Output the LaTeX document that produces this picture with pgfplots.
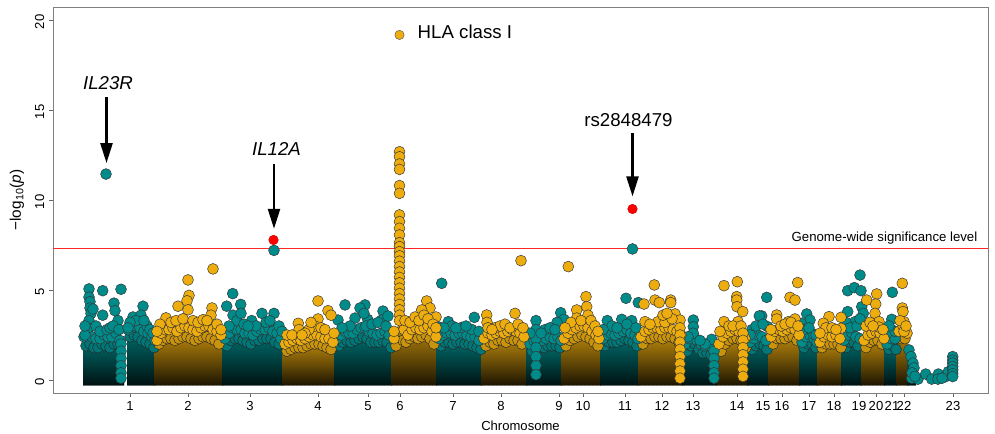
\documentclass[border=0pt]{standalone}
\usepackage{pgfplots}
\pgfplotsset{compat=1.18}
\usepackage{fontspec}
\setmainfont{Liberation Sans}
\usetikzlibrary{arrows.meta,patterns}

\definecolor{tealc}{RGB}{0,139,139}
\definecolor{goldc}{RGB}{238,173,14}
\definecolor{hitred}{RGB}{255,0,0}

\pgfplotsset{
  tbody/.style={draw=none, top color=tealc!88!black, bottom color=tealc!12!black,
    postaction={pattern=vertical lines, pattern color=black!55}, forget plot},
  ybody/.style={draw=none, top color=goldc!88!black, bottom color=goldc!12!black,
    postaction={pattern=vertical lines, pattern color=black!55}, forget plot},
  tdot/.style={only marks, mark=*, mark size=4.1pt, mark options={fill=tealc, draw=black!80, line width=0.35pt}, forget plot},
  ydot/.style={only marks, mark=*, mark size=4.1pt, mark options={fill=goldc, draw=black!80, line width=0.35pt}, forget plot},
  tdotd/.style={only marks, mark=*, mark size=4.1pt, mark options={fill=tealc!85!black, draw=black!85, line width=0.35pt}, forget plot},
  ydotd/.style={only marks, mark=*, mark size=4.1pt, mark options={fill=goldc!85!black, draw=black!85, line width=0.35pt}, forget plot},
}

\begin{document}
\begin{tikzpicture}
\path[use as bounding box] (-39.75pt,-30.75pt) rectangle (706.5pt,294.75pt);
\begin{axis}[
  at={(0,0)}, anchor=south west,
  scale only axis, width=701.25pt, height=289.5pt,
  xmin=53, xmax=988, ymin=-0.722, ymax=20.722,
  axis line style={draw=black!50, line width=0.6pt},
  xtick={130,188,250,318,368,400,453,501,559,583,625,662,693,737,763,782,809,834,859,876,892,904,953},
  xticklabels={1,2,3,4,5,6,7,8,9,10,11,12,13,14,15,16,17,18,19,20,21,22,23},
  ytick={0,5,10,15,20},
  tick align=outside, major tick length=3pt,
  xtick pos=lower, ytick pos=left,
  tick style={draw=black!60, line width=0.6pt},
  tick label style={font=\fontsize{9.8}{11}\selectfont},
  /pgf/number format/assume math mode=true,
  yticklabel style={rotate=90, anchor=south, xshift=-1.5pt},
  xlabel={Chromosome},
  ylabel={−log\textsubscript{10}(\textit{p})},
  xlabel style={font=\fontsize{9.8}{11}\selectfont, at={(axis description cs:0.5,-0.0855)}, anchor=center},
  ylabel style={font=\fontsize{11.5}{13}\selectfont, at={(axis description cs:-0.0385,0.5)}, anchor=center},
]

% ---- dense bodies (dense lower part of every chromosome) ----
\addplot[tbody] coordinates {(83,-0.3) (83,2.4) (88,2.6) (93,2.3) (98,2.2) (104,2.5) (110,2.3) (116,2.6) (121,2.0) (124,1.5) (124,-0.3)} -- cycle;
\addplot[tbody] coordinates {(127,-0.3) (127,2.9) (132,3.2) (138,3.0) (144,2.7) (150,2.5) (155,2.3) (155,-0.3)} -- cycle;
\addplot[ybody] coordinates {(154,-0.3) (154,2.2) (160,2.6) (166,2.8) (172,2.9) (178,2.7) (184,3.0) (190,2.9) (196,2.7) (202,2.9) (208,3.0) (214,2.8) (220,2.6) (223,2.4) (223,-0.3)} -- cycle;
\addplot[tbody] coordinates {(222,-0.3) (222,2.3) (228,2.6) (234,2.9) (240,2.8) (246,2.6) (252,2.5) (258,2.7) (264,2.8) (270,2.9) (276,2.6) (283,2.3) (283,-0.3)} -- cycle;
\addplot[ybody] coordinates {(282,-0.3) (282,2.0) (290,2.1) (296,2.3) (302,2.2) (308,2.4) (314,2.5) (320,2.4) (326,2.3) (332,2.2) (335,2.1) (335,-0.3)} -- cycle;
\addplot[tbody] coordinates {(334,-0.3) (334,2.3) (341,2.5) (347,2.7) (353,2.6) (359,2.8) (365,2.9) (371,2.6) (377,2.5) (383,2.7) (389,2.6) (392,2.2) (392,-0.3)} -- cycle;
\addplot[ybody] coordinates {(391,-0.3) (391,2.3) (397,2.8) (400,3.5) (402,2.8) (408,2.6) (414,2.9) (420,2.8) (426,3.0) (432,2.7) (437,2.4) (437,-0.3)} -- cycle;
\addplot[tbody] coordinates {(436,-0.3) (436,2.3) (442,2.5) (448,2.6) (454,2.5) (460,2.6) (466,2.5) (472,2.4) (478,2.3) (482,2.1) (482,-0.3)} -- cycle;
\addplot[ybody] coordinates {(481,-0.3) (481,2.3) (488,2.6) (494,2.5) (500,2.7) (506,2.6) (512,2.8) (518,2.7) (524,2.5) (527,2.3) (527,-0.3)} -- cycle;
\addplot[tbody] coordinates {(526,-0.3) (526,2.0) (533,2.2) (538,2.3) (543,2.2) (548,2.4) (553,2.3) (558,2.4) (562,2.2) (562,-0.3)} -- cycle;
\addplot[ybody] coordinates {(561,-0.3) (561,2.3) (567,2.6) (572,2.8) (577,2.9) (582,3.0) (587,2.9) (592,2.7) (597,2.5) (601,2.3) (601,-0.3)} -- cycle;
\addplot[tbody] coordinates {(600,-0.3) (600,2.3) (606,2.5) (611,2.6) (616,2.5) (621,2.7) (626,2.8) (631,2.6) (636,2.5) (639,2.3) (639,-0.3)} -- cycle;
\addplot[ybody] coordinates {(638,-0.3) (638,2.4) (644,2.7) (650,2.8) (656,2.9) (662,2.8) (668,2.9) (674,2.8) (680,2.6) (683,2.3) (683,-0.3)} -- cycle;
\addplot[tbody] coordinates {(682,-0.3) (682,2.0) (688,2.3) (693,2.6) (698,2.2) (703,1.9) (708,1.9) (713,1.8) (717,1.6) (717,-0.3)} -- cycle;
\addplot[ybody] coordinates {(716,-0.3) (716,2.0) (722,2.4) (727,2.6) (732,2.7) (737,2.8) (742,2.6) (746,2.3) (748,2.0) (748,-0.3)} -- cycle;
\addplot[tbody] coordinates {(747,-0.3) (747,2.1) (753,2.3) (758,2.5) (763,2.4) (769,2.2) (769,-0.3)} -- cycle;
\addplot[ybody] coordinates {(768,-0.3) (768,2.4) (774,2.7) (779,2.8) (784,2.7) (789,2.8) (794,2.9) (799,2.6) (800,2.3) (800,-0.3)} -- cycle;
\addplot[tbody] coordinates {(799,-0.3) (799,2.1) (805,2.4) (810,2.5) (815,2.3) (818,2.1) (818,-0.3)} -- cycle;
\addplot[ybody] coordinates {(817,-0.3) (817,2.1) (823,2.4) (828,2.5) (833,2.4) (838,2.5) (842,2.2) (842,-0.3)} -- cycle;
\addplot[tbody] coordinates {(841,-0.3) (841,2.2) (847,2.5) (852,2.6) (857,2.4) (862,2.2) (862,-0.3)} -- cycle;
\addplot[ybody] coordinates {(861,-0.3) (861,2.2) (867,2.5) (872,2.6) (877,2.7) (882,2.5) (885,2.2) (885,-0.3)} -- cycle;
\addplot[tbody] coordinates {(884,-0.3) (884,2.0) (889,2.3) (893,2.4) (897,2.1) (897,-0.3)} -- cycle;
\addplot[ybody] coordinates {(896,-0.3) (896,2.7) (901,3.0) (905,2.8) (908,2.2) (908,-0.3)} -- cycle;
\addplot[tbody] coordinates {(907,-0.3) (907,1.6) (910,1.2) (913,0.7) (916,0.2) (916,-0.3)} -- cycle;

% ---- dense packs of SNPs along the top of each body ----
\addplot[tdotd] coordinates {
(86,1.9) (90,2.0) (94,1.8) (98,1.8) (102,2.0) (106,1.9) (110,1.8) (114,2.0) (118,2.0)
(130,2.4) (134,2.5) (138,2.4) (142,2.2) (146,2.1) (150,2.0) (154,1.8)
(227,1.9) (231,2.2) (235,2.3) (239,2.3) (243,2.2) (247,2.1) (251,2.0) (255,2.2) (259,2.2) (263,2.3) (267,2.3) (271,2.3) (275,2.1) (279,2.0)
(339,1.9) (343,2.1) (347,2.2) (351,2.1) (355,2.2) (359,2.3) (363,2.4) (367,2.3) (371,2.1) (375,2.1) (379,2.1) (383,2.2) (387,2.1) (391,1.8)
(441,1.9) (445,2.1) (449,2.1) (453,2.0) (457,2.1) (461,2.1) (465,2.0) (469,2.0) (473,1.9) (477,1.8) (481,1.7)
(532,1.6) (540,1.8) (544,1.8) (548,1.9) (552,1.9) (556,1.9) (560,1.8)
(605,1.9) (609,2.1) (613,2.1) (617,2.1) (621,2.2) (625,2.3) (629,2.2) (633,2.1) (637,1.9)
(687,1.6) (691,1.9) (695,2.0) (699,1.7) (703,1.5) (707,1.5) (711,1.4)
(752,1.7) (756,1.9) (760,2.0) (764,1.9) (767,1.7)
(804,1.8) (808,2.0) (812,2.0) (816,1.8)
(846,1.8) (850,2.1) (854,2.1) (858,1.9)
(889,1.7) (893,1.9) (896,1.7)
};
\addplot[ydotd] coordinates {
(159,2.0) (163,2.2) (167,2.3) (171,2.3) (175,2.2) (179,2.3) (183,2.4) (187,2.4) (191,2.3) (195,2.2) (199,2.3) (203,2.4) (207,2.4) (211,2.3) (215,2.2) (219,2.0)
(287,1.6) (291,1.7) (295,1.8) (299,1.8) (303,1.8) (307,1.9) (311,2.0) (315,2.0) (319,2.0) (323,1.9) (327,1.8) (331,1.7)
(396,1.9) (403,2.2) (406,2.1) (410,2.3) (414,2.4) (418,2.3) (422,2.4) (426,2.5) (430,2.3) (434,2.0)
(486,1.9) (490,2.1) (494,2.0) (498,2.2) (502,2.2) (506,2.1) (510,2.3) (514,2.2) (518,2.2) (522,2.0)
(566,1.9) (570,2.2) (574,2.3) (578,2.4) (582,2.5) (586,2.4) (590,2.3) (594,2.1) (598,1.9)
(643,2.0) (647,2.3) (651,2.3) (655,2.4) (659,2.4) (663,2.3) (667,2.4) (671,2.4) (675,2.3) (679,2.1)
(721,1.6) (725,2.0) (729,2.2) (733,2.3) (737,2.3) (741,2.2) (746,1.8)
(773,2.0) (777,2.3) (781,2.3) (785,2.3) (789,2.4) (793,2.4) (797,2.2)
(822,1.8) (826,2.0) (830,2.0) (834,2.0) (838,2.0) (841,1.8)
(866,1.8) (870,2.1) (874,2.2) (878,2.2) (882,2.0)
(901,2.3) (905,2.3)
};

% ---- significance threshold ----
\addplot[draw=hitred!85, line width=1.1pt, forget plot] coordinates {(53,7.3) (988,7.3)};

% ---- teal SNPs (odd chromosomes) ----
\addplot[tdot] coordinates {
(84,2.4) (88,2.6) (92,2.4) (96,2.3) (100,2.3) (104,2.5) (108,2.4) (112,2.4) (116,2.6) (120,2.2)
(128,2.8) (132,3.1) (136,3.0) (140,2.9) (144,2.7) (148,2.6) (152,2.4) (155,2.2)
(225,2.3) (229,2.6) (233,2.9) (237,2.8) (241,2.8) (245,2.6) (249,2.6) (253,2.5) (257,2.7) (261,2.8) (265,2.8) (269,2.9) (273,2.7) (277,2.6) (281,2.3)
(337,2.3) (341,2.5) (345,2.7) (349,2.6) (353,2.6) (357,2.8) (361,2.9) (365,2.9) (369,2.7) (373,2.6) (377,2.5) (381,2.6) (385,2.7) (389,2.5)
(439,2.3) (443,2.5) (447,2.6) (451,2.6) (455,2.5) (459,2.6) (463,2.6) (467,2.5) (471,2.4) (475,2.4) (479,2.2)
(530,2.0) (534,2.2) (538,2.3) (542,2.2) (546,2.3) (550,2.4) (554,2.3) (558,2.4) (561,2.2)
(603,2.3) (607,2.5) (611,2.6) (615,2.5) (619,2.6) (623,2.7) (627,2.8) (631,2.6) (635,2.5) (638,2.3)
(685,2.0) (689,2.3) (693,2.5) (697,2.2) (701,2.0) (705,1.9) (709,1.9) (712,1.8)
(750,2.1) (754,2.3) (758,2.5) (762,2.4) (766,2.2)
(802,2.1) (806,2.4) (810,2.5) (814,2.3) (817,2.1)
(844,2.2) (848,2.5) (852,2.6) (856,2.4) (860,2.3)
(887,2.0) (891,2.3) (895,2.3)
(89,5.06) (89,4.6) (90,4.35) (90,4.0) (91,3.7) (89,3.3) (88,2.9) (102.7,4.96) (102.7,3.6) (114,4.27)
(115,3.85) (118,3.3) (121,5.04) (93,3.94) (96,3.0) (100,2.7) (107,2.8) (110,2.9) (113,3.0) (119,2.8)
(85,2.5) (85,3.0) (121,2.0) (121,1.6) (121,1.2) (121,0.8) (121,0.4) (121,0.1)
(133,3.5) (143,4.1) (141,3.6) (136,3.3) (130,3.2) (147,3.0) (150,2.8) (153,2.6) (128,2.9) (144,3.3)
(106,11.44)
(232.7,4.8) (240.7,4.2) (226.7,4.1) (251.7,3.3) (262,3.7) (274,3.7) (274,7.2) (233,3.6) (237,3.3) (241,3.7)
(244,3.1) (229,3.0) (256,3.0) (266,3.2) (270,3.3) (279,3.0) (248,3.0) (282,2.7)
(345,4.17) (365,4.17) (360,4.0) (383,3.83) (338,3.33) (355,3.44) (367.7,3.37) (381.7,3.33) (364,3.7) (366,3.0)
(350,3.0) (372,3.1) (378,3.2) (386,3.0) (342,2.9) (388,3.55)
(441.7,5.37) (474.3,3.48) (448.3,3.24) (439,2.94) (461.7,2.92) (471.7,2.81) (452,3.0) (456,2.9) (466,3.0) (444,2.9) (479,2.7)
(536,3.3) (536,2.8) (536,2.3) (536,1.8) (536,1.3) (536,0.8) (536,0.3) (560.7,3.74) (564,3.37) (557,3.2)
(545,2.8) (550,2.9) (530,2.6) (541,2.6) (555,2.8)
(626,4.54) (638.3,4.3) (607.3,3.3) (621.7,3.37) (631.7,3.3) (632.5,7.28) (612,3.0) (617,2.9) (627,3.1) (603,2.8) (636,2.9)
(693.3,3.33) (693.3,2.96) (693.3,2.6) (711.7,2.26) (705,2.0) (700,2.2) (688,2.4) (714,1.6) (714,1.2) (714,0.8) (714,0.4) (714,0.1)
(766.7,4.59) (761.7,3.56) (759.3,3.56) (767.7,2.96) (752,2.8) (756,3.0) (763,3.1) (750,2.5)
(806.7,3.67) (810,3.33) (801,3.15) (813.3,2.56) (804,2.8) (809,2.9) (816,2.5)
(860,5.83) (847.7,4.96) (854.3,5.13) (861,4.96) (847.7,3.8) (861.7,4.07) (863.3,3.7) (855,3.24) (846,3.2) (850,2.9) (857,3.0) (860,3.4)
(892.3,4.87) (891.7,3.37) (891.7,2.78) (887,2.6) (895,2.7) (889,3.0)
(909,1.67) (911,1.3) (913,0.94) (914,0.67) (911.7,0.1) (918,0.05) (925.7,0.33) (931.7,0.05) (938.3,0.33) (938,0.05)
(945.7,0.19) (948.3,0.46) (912,0.4) (915,0.2) (942,0.1)
(952.7,1.3) (952.7,1.1) (952.7,0.94) (952.7,0.75) (952.7,0.56) (952.7,0.35) (952.7,0.19)
};

% ---- gold SNPs (even chromosomes) ----
\addplot[ydot] coordinates {
(157,2.2) (161,2.6) (165,2.8) (169,2.8) (173,2.9) (177,2.7) (181,2.9) (185,3.0) (189,2.9) (193,2.8) (197,2.7) (201,2.9) (205,3.0) (209,3.0) (213,2.8) (217,2.7) (221,2.5)
(285,2.0) (289,2.1) (293,2.2) (297,2.3) (301,2.2) (305,2.3) (309,2.4) (313,2.5) (317,2.5) (321,2.4) (325,2.3) (329,2.3) (333,2.1)
(394,2.3) (404,2.8) (408,2.5) (412,2.8) (416,2.9) (420,2.8) (424,2.9) (428,3.0) (432,2.7) (436,2.4)
(484,2.3) (488,2.6) (492,2.5) (496,2.6) (500,2.7) (504,2.6) (508,2.7) (512,2.8) (516,2.7) (520,2.6) (524,2.4)
(564,2.3) (568,2.6) (572,2.8) (576,2.9) (580,3.0) (584,3.0) (588,2.9) (592,2.7) (596,2.5) (599,2.3)
(641,2.4) (645,2.7) (649,2.8) (653,2.9) (657,2.9) (661,2.8) (665,2.9) (669,2.9) (673,2.8) (677,2.7) (681,2.5)
(719,2.0) (723,2.4) (727,2.6) (731,2.7) (735,2.8) (739,2.7) (745,2.3)
(771,2.4) (775,2.7) (779,2.8) (783,2.7) (787,2.8) (791,2.9) (795,2.8) (799,2.5)
(820,2.1) (824,2.4) (828,2.5) (832,2.4) (836,2.5) (840,2.3)
(864,2.2) (868,2.5) (872,2.6) (876,2.7) (880,2.6) (884,2.3)
(899,2.7) (903,3.0) (907,2.6)
(213,6.17) (188,5.56) (189,4.7) (187,4.4) (178,4.1) (188,3.9) (212,4.0) (211,3.6) (166,3.45) (160,3.1)
(171,3.2) (176,3.3) (183,3.4) (193,3.3) (198,3.2) (203,3.35) (207,3.3) (217,3.1) (221,2.8) (157,2.7)
(298.3,3.15) (299,2.8) (318,4.39) (328,3.85) (331,3.6) (318,3.39) (315,3.0) (321,2.9) (309,2.8) (305,2.6)
(325,2.8) (287,2.5) (292,2.5) (311,3.2) (334,2.6) (302,2.5)
(399.5,12.68) (399.5,12.4) (399.5,12.0) (399.5,11.7) (399.5,10.8) (399.5,10.37) (399.5,9.17) (399.5,8.8)
(399.5,8.43) (399.5,8.06) (399.5,7.63) (399.5,7.41) (399.5,7.13) (399.5,6.9) (399.5,6.6) (399.5,6.3)
(399.5,6.0) (399.5,5.7) (399.5,5.4) (399.5,5.1) (399.5,4.8) (399.5,4.5) (399.5,4.2) (399.5,3.9) (399.5,3.6) (399.5,3.3)
(426.7,4.39) (430,4.0) (421.7,3.89) (436,3.5) (405,3.3) (410,3.2) (415,3.5) (419,3.3) (424,3.6) (428,3.4)
(433,3.1) (436,2.9) (394,2.7)
(521,6.63) (515,3.7) (486.7,3.61) (487,3.2) (488,2.9) (495,2.9) (500,3.0) (505,3.1) (510,2.9) (518,3.1) (523,2.9) (492,2.8)
(568.3,6.3) (586,4.63) (586.7,4.07) (588,3.6) (576.7,3.89) (576.7,3.44) (571,3.2) (581,3.3) (591,3.3) (595,3.0) (565,2.9) (598,2.7)
(654.3,5.28) (655,4.44) (659.3,4.3) (644,4.22) (670.7,4.44) (670.7,4.3) (675,3.67) (645,3.24) (658,3.24) (680,3.33)
(680,2.9) (680,2.5) (680,2.1) (680,1.7) (680,1.3) (680,0.9) (680,0.5) (680,0.1) (650,3.1) (665,3.2) (672,3.4) (663,3.6) (667,3.7)
(724,5.24) (737.3,5.46) (736.7,4.63) (736.7,4.44) (737,4.07) (742.7,3.8) (724,3.24) (738,3.24) (729,3.0) (733,3.0)
(741,3.0) (720,2.7) (743,2.6) (743,2.2) (743,1.8) (743,1.4) (743,1.0) (743,0.6) (743,0.2)
(797.7,5.41) (790,4.59) (795,4.44) (776.7,3.61) (776.7,3.39) (788.3,3.24) (795,3.39) (781,3.0) (785,3.1) (791,3.2) (771,2.8) (798,3.0)
(829,3.52) (823.3,3.15) (841,3.48) (841,2.87) (826,2.9) (832,2.9) (836,2.8) (820,2.6)
(866.7,4.44) (876.7,4.78) (875.7,4.22) (875,3.7) (879,3.24) (879,2.94) (866,3.0) (870,3.2) (873,3.0) (883,2.8)
(902.3,5.37) (902.3,4.0) (903,3.8) (904,3.24) (904,2.69) (900,3.3) (906,3.0)
};

% ---- highlighted SNPs ----
\addplot[only marks, mark=*, mark size=3.5pt, mark options={fill=goldc, draw=black!70, line width=0.3pt}, forget plot]
  coordinates {(399.5,19.17)};
\addplot[only marks, mark=*, mark size=3.6pt, mark options={fill=hitred, draw=red!80!black, line width=0.3pt}, forget plot]
  coordinates {(273.5,7.78) (632.5,9.5)};

% ---- annotations ----
\node[anchor=west, font=\fontsize{14}{16}\selectfont] at (axis cs:413,19.35) {HLA class I};
\node[font=\fontsize{14}{16}\selectfont\itshape] at (axis cs:108,16.5) {IL23R};
\node[font=\fontsize{14}{16}\selectfont\itshape] at (axis cs:276.5,12.82) {IL12A};
\node[font=\fontsize{14}{16}\selectfont] at (axis cs:628.5,14.44) {rs2848479};
\node[anchor=base east, font=\fontsize{9.9}{11}\selectfont] at (axis cs:982,7.68) {Genome-wide significance level};
\draw[-{Triangle[width=9pt,length=15pt]}, line width=1.8pt] (axis cs:106.5,15.7) -- (axis cs:106.5,12.05);
\draw[-{Triangle[width=9pt,length=15pt]}, line width=1.8pt] (axis cs:274,12.0) -- (axis cs:274,8.4);
\draw[-{Triangle[width=9pt,length=15pt]}, line width=1.8pt] (axis cs:632.5,13.7) -- (axis cs:632.5,10.2);
\end{axis}
\end{tikzpicture}
\end{document}
